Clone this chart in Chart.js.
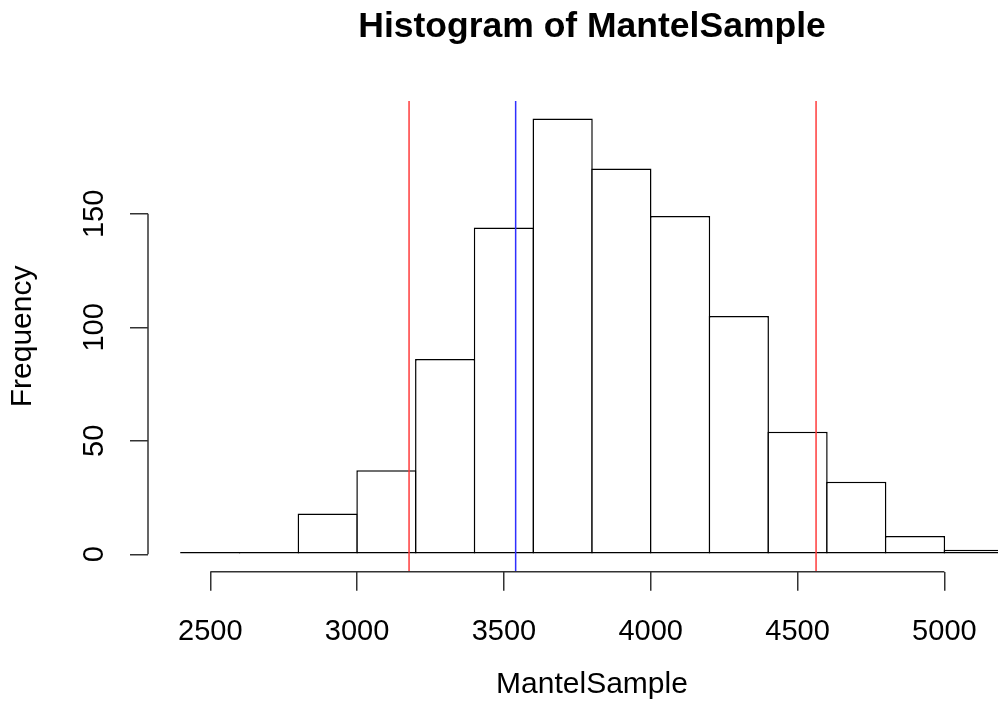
<!DOCTYPE html>
<html>
<head>
<meta charset="utf-8">
<title>Histogram of MantelSample</title>
<script src="https://cdn.jsdelivr.net/npm/chart.js@4.4.1/dist/chart.umd.min.js"></script>
<style>
  html, body { margin: 0; padding: 0; background: #fff; overflow: hidden; }
  #wrap { width: 998px; height: 726px; overflow: hidden; }
  canvas { display: block; }
</style>
</head>
<body>
<div id="wrap"><canvas id="hist" width="1184" height="726"></canvas></div>
<script>
// histogram bins (left edges, width 200) and their counts
const binStarts = [2400, 2600, 2800, 3000, 3200, 3400, 3600, 3800, 4000, 4200, 4400, 4600, 4800, 5000];
const binWidth = 200;
const counts = [1, 1, 18, 37, 86, 144, 192, 170, 149, 105, 54, 32, 8, 2];

// axis ticks
const xTicks = [2500, 3000, 3500, 4000, 4500, 5000];
const yTicks = [0, 50, 100, 150];

// vertical lines: interval bounds (red) and observed value (blue)
const boundLines = [3177, 4563];
const observedLines = [3540];

// plot range padded by 4% on each side, like base R graphics
const xLo = binStarts[0], xHi = binStarts[binStarts.length - 1] + binWidth;
const yHi = Math.max(...counts);
const xPad = (xHi - xLo) * 0.04, yPad = yHi * 0.04;

const FONT = "'Liberation Sans', Arial, Helvetica, sans-serif";
Chart.defaults.font.family = FONT;
Chart.defaults.color = '#000';

const LINE = 1.5;
const MARGIN = 148; // left/right margin around the plot region

// axis lines only span the tick range, plus the abline-style verticals
const rStyle = {
  id: 'rStyle',
  afterDatasetsDraw(chart) {
    const { ctx, chartArea, scales: { x, y } } = chart;
    ctx.save();
    ctx.lineWidth = 1.5;
    const vline = (v, color) => {
      const px = x.getPixelForValue(v);
      ctx.strokeStyle = color;
      ctx.beginPath();
      ctx.moveTo(px, chartArea.top);
      ctx.lineTo(px, chartArea.bottom);
      ctx.stroke();
    };
    boundLines.forEach(v => vline(v, '#ff3b3b'));
    observedLines.forEach(v => vline(v, '#2f2fff'));

    ctx.strokeStyle = '#333';
    ctx.lineWidth = LINE;
    ctx.beginPath();
    ctx.moveTo(x.getPixelForValue(xTicks[0]), chartArea.bottom);
    ctx.lineTo(x.getPixelForValue(xTicks[xTicks.length - 1]), chartArea.bottom);
    ctx.moveTo(chartArea.left, y.getPixelForValue(yTicks[0]));
    ctx.lineTo(chartArea.left, y.getPixelForValue(yTicks[yTicks.length - 1]));
    ctx.stroke();
    ctx.restore();
  }
};

new Chart(document.getElementById('hist'), {
  type: 'bar',
  data: {
    datasets: [{
      label: 'MantelSample',
      data: binStarts.map((s, i) => ({ x: s + binWidth / 2, y: counts[i] })),
      backgroundColor: '#fff',
      borderColor: '#000',
      borderWidth: LINE,
      borderSkipped: false,
      inflateAmount: 0,
      categoryPercentage: 1,
      barPercentage: 1.0255,
      clip: false
    }]
  },
  options: {
    responsive: false,
    animation: false,
    // the plot region runs past the visible page on the right
    layout: { padding: { left: 0, right: MARGIN, top: 0, bottom: 0 } },
    plugins: {
      legend: { display: false },
      tooltip: { enabled: false },
      title: {
        display: true,
        fullSize: false, // centre over the plot region, not the canvas
        text: 'Histogram of MantelSample',
        font: { size: 35.5, weight: 'bold' },
        padding: { top: 6, bottom: 52.5 }
      }
    },
    scales: {
      x: {
        type: 'linear',
        offset: false,
        min: xLo - xPad,
        max: xHi + xPad,
        afterFit: s => { s.height = 154.3; },
        afterBuildTicks: s => { s.ticks = xTicks.map(v => ({ value: v })); },
        border: { display: false },
        grid: { offset: false, drawOnChartArea: false, drawTicks: true, tickLength: 19, color: '#333', lineWidth: LINE },
        ticks: {
          font: { size: 29 },
          padding: 24,
          maxRotation: 0,
          autoSkip: false,
          callback: v => String(v)
        },
        title: {
          display: true,
          text: 'MantelSample',
          font: { size: 30 },
          padding: { top: 0, bottom: 23 }
        }
      },
      y: {
        min: -yPad,
        max: yHi + yPad,
        afterFit: s => { s.width = MARGIN; },
        afterBuildTicks: s => { s.ticks = yTicks.map(v => ({ value: v })); },
        border: { display: false },
        grid: { drawOnChartArea: false, drawTicks: true, tickLength: 18, color: '#333', lineWidth: LINE },
        ticks: {
          font: { size: 29 },
          minRotation: 90,
          maxRotation: 90,
          crossAlign: 'center',
          padding: 11,
          autoSkip: false,
          callback: v => String(v)
        },
        title: {
          display: true,
          text: 'Frequency',
          font: { size: 30 },
          padding: { top: 5, bottom: 0 }
        }
      }
    }
  },
  plugins: [rStyle]
});
</script>
</body>
</html>
